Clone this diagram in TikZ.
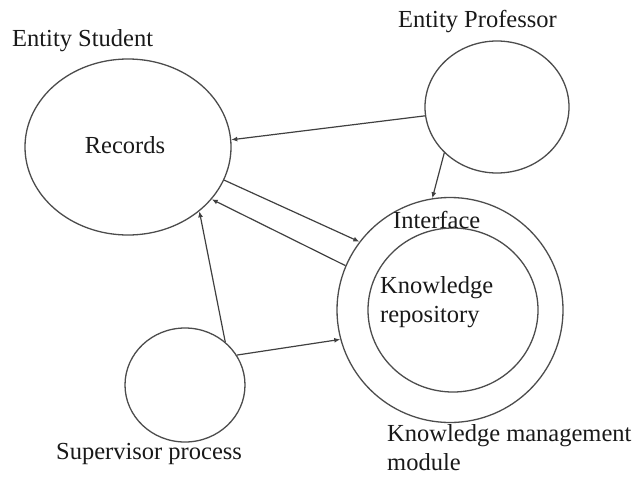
\documentclass[tikz,border=0pt]{standalone}
\usepackage{fontspec}
\setmainfont{Liberation Serif}
\usetikzlibrary{shapes.geometric,arrows.meta}
\begin{document}
\begin{tikzpicture}[x=1pt,y=-1pt,
  oval/.style={draw=black!70,line width=1.3pt,ellipse,inner sep=0pt},
  lbl/.style={inner sep=0pt,font=\fontsize{24.5}{29}\selectfont,text=black!90},
  link/.style={draw=black!75,line width=1.2pt,-{Latex[length=6pt,width=5pt]}}]
\useasboundingbox (0,0) rectangle (636,479);
% shapes
\node[oval,minimum width=206pt,minimum height=176pt] (stud) at (128,147) {};
\node[oval,minimum width=144pt,minimum height=132pt] (prof) at (497,107) {};
\node[oval,minimum width=226pt,minimum height=225pt] (km) at (450,310) {};
\node[oval,minimum width=170pt,minimum height=164pt] (repo) at (453,310) {};
\node[oval,minimum width=120pt,minimum height=114pt] (sup) at (185,385) {};
% labels
\node[lbl,anchor=west] (tstud) at (12,41) {Entity Student};
\node[lbl,anchor=west] (tprof) at (398,22) {Entity Professor};
\node[lbl] (trec) at (125,145) {Records};
\node[lbl,anchor=west] (tint) at (393,220) {Interface};
\node[lbl,anchor=west,align=left] (trepo) at (380,302) {Knowledge\\repository};
\node[lbl,anchor=west] (tsup) at (56,454) {Supervisor process};
\node[lbl,anchor=west,align=left] (tkm) at (387,448) {Knowledge management\\module};
% connectors
\draw[link] (prof.187) -- (stud.4);
\draw[link] (prof.221) -- (km.99);
\draw[link] (stud.341) -- (km.143.6);
\draw[link] (km.157) -- (stud.328.6);
\draw[link] (sup.47.7) -- (stud.318.3);
\draw[link] (sup.30.3) -- (km.195.3);
\end{tikzpicture}
\end{document}
